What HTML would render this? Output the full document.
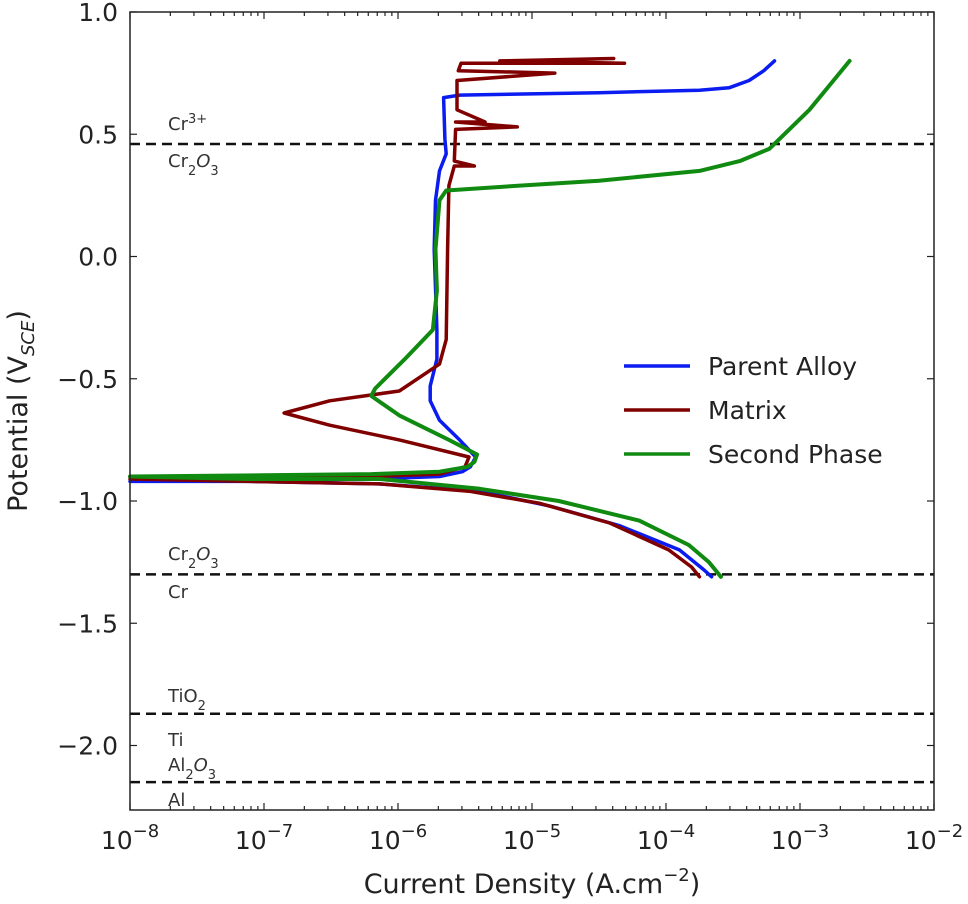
<!DOCTYPE html>
<html><head><meta charset="utf-8"><style>
html,body{margin:0;padding:0;background:#fff;}
svg{display:block;font-family:"DejaVu Sans","Liberation Sans",sans-serif;}
</style></head><body>
<svg id="chart" width="968" height="904" viewBox="0 0 968 904" xmlns="http://www.w3.org/2000/svg">
<g id="grid"></g>
<g id="lines"></g>
<g id="axes"></g>
</svg>
<script>
// ---- data (log10 current density, potential V) ----
const xTickExps = [-8,-7,-6,-5,-4,-3,-2];
const yTicks = [1.0,0.5,0.0,-0.5,-1.0,-1.5,-2.0];
const yTickLabels = ["1.0","0.5","0.0","\u22120.5","\u22121.0","\u22121.5","\u22122.0"];
const refPotentials = [0.46,-1.30,-1.87,-2.15];
const parentLogI = [-3.66,-3.72,-3.90,-4.35,-4.87,-5.39,-6.14,-7.11,-8.0,-7.0,-6.2,-5.69,-5.52,-5.46,-5.42,-5.54,-5.69,-5.76,-5.76,-5.71,-5.71,-5.73,-5.72,-5.69,-5.64,-5.65,-5.66,-5.54,-4.50,-3.75,-3.53,-3.38,-3.27,-3.19];
const parentV    = [-1.31,-1.28,-1.20,-1.10,-1.02,-0.96,-0.93,-0.92,-0.92,-0.915,-0.91,-0.90,-0.88,-0.86,-0.82,-0.75,-0.67,-0.59,-0.53,-0.42,-0.30,0.03,0.23,0.35,0.42,0.48,0.65,0.66,0.67,0.68,0.69,0.72,0.76,0.80];
const matrixLogI = [-3.75,-3.81,-3.98,-4.42,-4.94,-5.47,-6.14,-7.11,-8.0,-7.0,-6.2,-5.69,-5.50,-5.47,-5.99,-6.51,-6.85,-6.51,-5.99,-5.69,-5.64,-5.63,-5.62,-5.58,-5.43,-5.58,-5.57,-5.11,-5.57,-5.35,-5.56,-5.56,-4.83,-5.55,-5.53,-4.31,-5.24,-4.39];
const matrixV    = [-1.31,-1.27,-1.20,-1.09,-1.01,-0.96,-0.93,-0.92,-0.91,-0.905,-0.90,-0.89,-0.86,-0.82,-0.75,-0.69,-0.64,-0.59,-0.55,-0.44,-0.34,0.03,0.29,0.37,0.37,0.39,0.52,0.53,0.55,0.55,0.60,0.72,0.75,0.76,0.79,0.79,0.80,0.81];
const secondLogI = [-3.59,-3.68,-3.83,-4.20,-4.80,-5.39,-6.14,-7.11,-8.0,-7.0,-6.2,-5.69,-5.48,-5.43,-5.41,-5.62,-5.99,-6.20,-6.17,-5.95,-5.74,-5.71,-5.72,-5.69,-5.64,-5.09,-4.50,-3.75,-3.45,-3.23,-3.08,-2.93,-2.78,-2.63];
const secondV    = [-1.31,-1.25,-1.18,-1.08,-1.00,-0.95,-0.91,-0.91,-0.90,-0.895,-0.89,-0.88,-0.86,-0.84,-0.81,-0.75,-0.65,-0.57,-0.54,-0.42,-0.30,-0.14,0.03,0.23,0.27,0.29,0.31,0.35,0.39,0.44,0.52,0.60,0.70,0.80];
const seriesNames = ["Parent Alloy","Matrix","Second Phase"];

const NS="http://www.w3.org/2000/svg";
const L=130,R=934,T=12,B=810;
const xs = e => L + (e+8)/6*(R-L);
const ys = v => T + (1.0-v)*244.5;
function mk(tag,parent){const el=document.createElementNS(NS,tag);parent.appendChild(el);return el;}
const lines=document.getElementById('lines'), axes=document.getElementById('axes'), grid=document.getElementById('grid');

refPotentials.forEach((p)=>{
  const l=mk('line',grid);
  
  
  l.setAttribute('x1',L);l.setAttribute('x2',R);l.setAttribute('y1',ys(p));l.setAttribute('y2',ys(p));
  l.setAttribute('stroke','#111');l.setAttribute('stroke-width','2.5');l.setAttribute('stroke-dasharray','10,6');
});
const labs=[["Cr<tspan baseline-shift='super' font-size='13'>3+</tspan>",130],["Cr<tspan baseline-shift='sub' font-size='13'>2</tspan><tspan font-style='italic'>O</tspan><tspan baseline-shift='sub' font-size='13'>3</tspan>",167],
["Cr<tspan baseline-shift='sub' font-size='13'>2</tspan><tspan font-style='italic'>O</tspan><tspan baseline-shift='sub' font-size='13'>3</tspan>",560],["Cr",598],
["TiO<tspan baseline-shift='sub' font-size='13'>2</tspan>",702],["Ti",746],["Al<tspan baseline-shift='sub' font-size='13'>2</tspan><tspan font-style='italic'>O</tspan><tspan baseline-shift='sub' font-size='13'>3</tspan>",771],["Al",806]];
labs.forEach(([h,y])=>{
  const t=mk('text',grid);
  
  
  t.setAttribute('x',168);t.setAttribute('y',y);t.setAttribute('font-size','18');t.setAttribute('fill','#333');
  t.innerHTML=h;
});

function drawSeries(xa,va,color,w,name){
  const p=mk('path',lines);
  
  
  p.setAttribute('d',xa.map((e,i)=>(i?'L':'M')+xs(e).toFixed(1)+','+ys(va[i]).toFixed(1)).join(''));
  p.setAttribute('fill','none');p.setAttribute('stroke',color);p.setAttribute('stroke-width',w);p.setAttribute('stroke-linejoin','round');p.setAttribute('stroke-linecap','round');
}
drawSeries(parentLogI,parentV,'#0a1cf0',3.5,'parent-alloy-line');
drawSeries(matrixLogI,matrixV,'#800000',3.5,'matrix-line');
drawSeries(secondLogI,secondV,'#108a10',4,'second-phase-line');

const fr=mk('rect',axes);


fr.setAttribute('x',L);fr.setAttribute('y',T);fr.setAttribute('width',R-L);fr.setAttribute('height',B-T);
fr.setAttribute('fill','none');fr.setAttribute('stroke','#222');fr.setAttribute('stroke-width','1.5');

function tick(x1,y1,x2,y2){const l=mk('line',axes);
  
  
  l.setAttribute('x1',x1);l.setAttribute('y1',y1);l.setAttribute('x2',x2);l.setAttribute('y2',y2);l.setAttribute('stroke','#222');l.setAttribute('stroke-width','1.2');}
xTickExps.forEach((e,i)=>{
  const x=xs(e);
  tick(x,B,x,B-7);tick(x,T,x,T+7);
  if(i<xTickExps.length-1){for(let k=2;k<10;k++){const xm=xs(e+Math.log10(k));tick(xm,B,xm,B-4);tick(xm,T,xm,T+4);}}
  const t=mk('text',axes);
  
  
  t.setAttribute('x',x);t.setAttribute('y',B+39);t.setAttribute('text-anchor','middle');t.setAttribute('font-size','25');t.setAttribute('fill','#222');
  t.innerHTML='10<tspan dy="-12" font-size="18">\u2212'+Math.abs(e)+'</tspan>';
});
yTicks.forEach((v,i)=>{
  const y=ys(v);
  tick(L,y,L+7,y);tick(R,y,R-7,y);
  const t=mk('text',axes);
  
  
  t.setAttribute('x',L-12);t.setAttribute('y',y+9);t.setAttribute('text-anchor','end');t.setAttribute('font-size','25');t.setAttribute('fill','#222');
  t.textContent=yTickLabels[i];
});
const xt=mk('text',axes);


xt.setAttribute('x',532);xt.setAttribute('y',893);xt.setAttribute('text-anchor','middle');xt.setAttribute('font-size','27');xt.setAttribute('fill','#222');
xt.innerHTML='Current Density (A.cm<tspan dy="-12" font-size="18">\u22122</tspan><tspan dy="12">)</tspan>';
const yt=mk('text',axes);


yt.setAttribute('transform','translate(27,411) rotate(-90)');yt.setAttribute('text-anchor','middle');yt.setAttribute('font-size','27');yt.setAttribute('fill','#222');
yt.innerHTML='Potential (V<tspan dy="7" font-size="18" font-style="italic">SCE</tspan><tspan dy="-7">)</tspan>';

const colors=['#0a1cf0','#800000','#108a10'];
seriesNames.forEach((n,i)=>{
  const y=366+i*44;
  const l=mk('line',axes);
  
  
  l.setAttribute('x1',624);l.setAttribute('x2',690);l.setAttribute('y1',y);l.setAttribute('y2',y);l.setAttribute('stroke',colors[i]);l.setAttribute('stroke-width','3.5');
  const t=mk('text',axes);
  
  
  t.setAttribute('x',708);t.setAttribute('y',y+9);t.setAttribute('font-size','25');t.setAttribute('fill','#222');
  t.textContent=n;
});
</script>
</body></html>
